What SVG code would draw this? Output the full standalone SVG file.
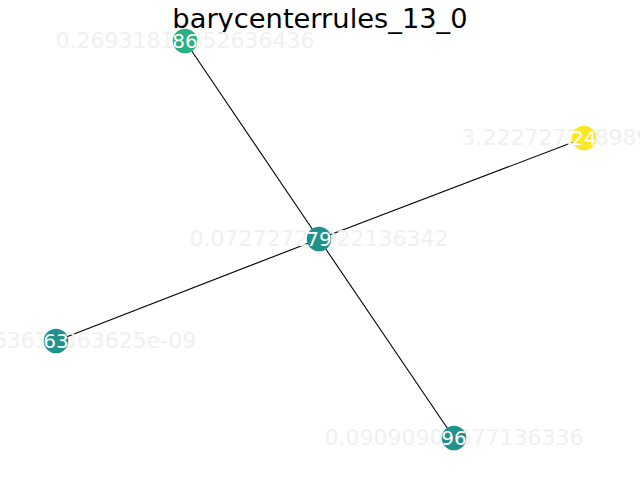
<svg xmlns="http://www.w3.org/2000/svg" width="640" height="480" viewBox="0 0 640 480">
<style>
.edge{stroke:#000;stroke-width:1.1;fill:none}
.val{font-family:"DejaVu Sans",sans-serif;font-size:22px;fill:#f0f0f0;text-anchor:middle}
.lbl{font-family:"DejaVu Sans",sans-serif;font-size:20px;fill:#fff;text-anchor:middle}
.title{font-family:"DejaVu Sans",sans-serif;font-size:27.3px;fill:#000;text-anchor:middle}
</style>
<rect width="640" height="480" fill="#fff"/>
<text class="title" x="320" y="28">barycenterrules_13_0</text>
<g id="connectors">
<line class="edge" x1="319" y1="239" x2="185" y2="41"/>
<line class="edge" x1="319" y1="239" x2="454" y2="438"/>
<line class="edge" x1="319" y1="239" x2="56" y2="341"/>
<line class="edge" x1="319" y1="239" x2="584" y2="138"/>
</g>
<g id="values">
<text class="val" x="185" y="48">0.26931818652636436</text>
<text class="val" x="584" y="145">3.2227272489898987</text>
<text class="val" x="319" y="246">0.07272727922136342</text>
<text class="val" x="56" y="348">3.636363636363625e-09</text>
<text class="val" x="454" y="445">0.09090909677136336</text>
</g>
<g id="node-86"><circle cx="185" cy="41" r="12.3" fill="#2ab07f"/><text class="lbl" x="185" y="48">86</text></g>
<g id="node-24"><circle cx="584" cy="138" r="12.3" fill="#fde725"/><text class="lbl" x="584" y="145">24</text></g>
<g id="node-79"><circle cx="319" cy="239" r="12.3" fill="#21918c"/><text class="lbl" x="319" y="246">79</text></g>
<g id="node-63"><circle cx="56" cy="341" r="12.3" fill="#21918c"/><text class="lbl" x="56" y="348">63</text></g>
<g id="node-96"><circle cx="454" cy="438" r="12.3" fill="#21918c"/><text class="lbl" x="454" y="445">96</text></g>
</svg>
